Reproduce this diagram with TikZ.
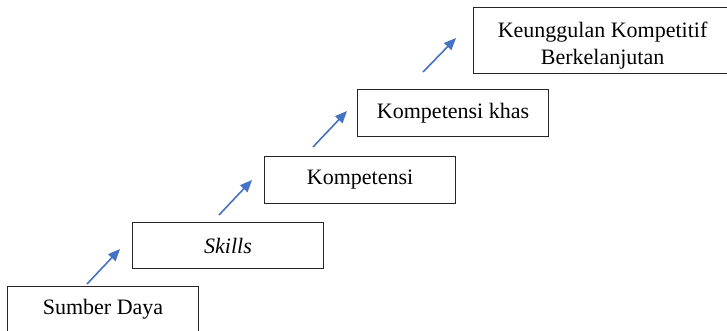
\documentclass[tikz,border=0pt]{standalone}
\usepackage{fontspec}
\setmainfont{Liberation Serif}
\usetikzlibrary{arrows.meta}
\definecolor{arrowblue}{RGB}{68,114,196}
\tikzset{
  stepbox/.style={draw=black!85, line width=1.1pt, anchor=north west, inner sep=0pt,
    font=\fontsize{22}{27}\selectfont, align=center},
  uparrow/.style={draw=arrowblue, line width=1.6pt, -{Triangle[length=12pt,width=10pt]}}
}
\begin{document}
\begin{tikzpicture}[x=1pt,y=-1pt]
\useasboundingbox (0,0) rectangle (727,330);
\clip (0,0) rectangle (727,330);
\node[stepbox, minimum width=191pt, minimum height=46pt] (sd) at (7,286) {Sumber Daya};
\node[stepbox, minimum width=191pt, minimum height=46pt] (sk) at (132,222) {\textit{Skills}};
\node[stepbox, minimum width=191pt, minimum height=47pt] (kp) at (264,156) {Kompetensi};
\node[stepbox, minimum width=191pt, minimum height=47pt] (kh) at (357,89) {Kompetensi khas};
\node[stepbox, minimum width=258pt, minimum height=66pt] (ku) at (473,7)
  {\raisebox{-5pt}[\height][\depth]{\begin{tabular}{@{}c@{}}Keunggulan Kompetitif\\Berkelanjutan\end{tabular}}};
\coordinate (a1s) at (87,284); \coordinate (a1e) at (120,249);
\coordinate (a2s) at (219,215); \coordinate (a2e) at (252,180);
\coordinate (a3s) at (313,147); \coordinate (a3e) at (347,111);
\coordinate (a4s) at (423,72);  \coordinate (a4e) at (456,38);
\draw[uparrow] (a1s) -- (a1e);
\draw[uparrow] (a2s) -- (a2e);
\draw[uparrow] (a3s) -- (a3e);
\draw[uparrow] (a4s) -- (a4e);
\end{tikzpicture}
\end{document}
